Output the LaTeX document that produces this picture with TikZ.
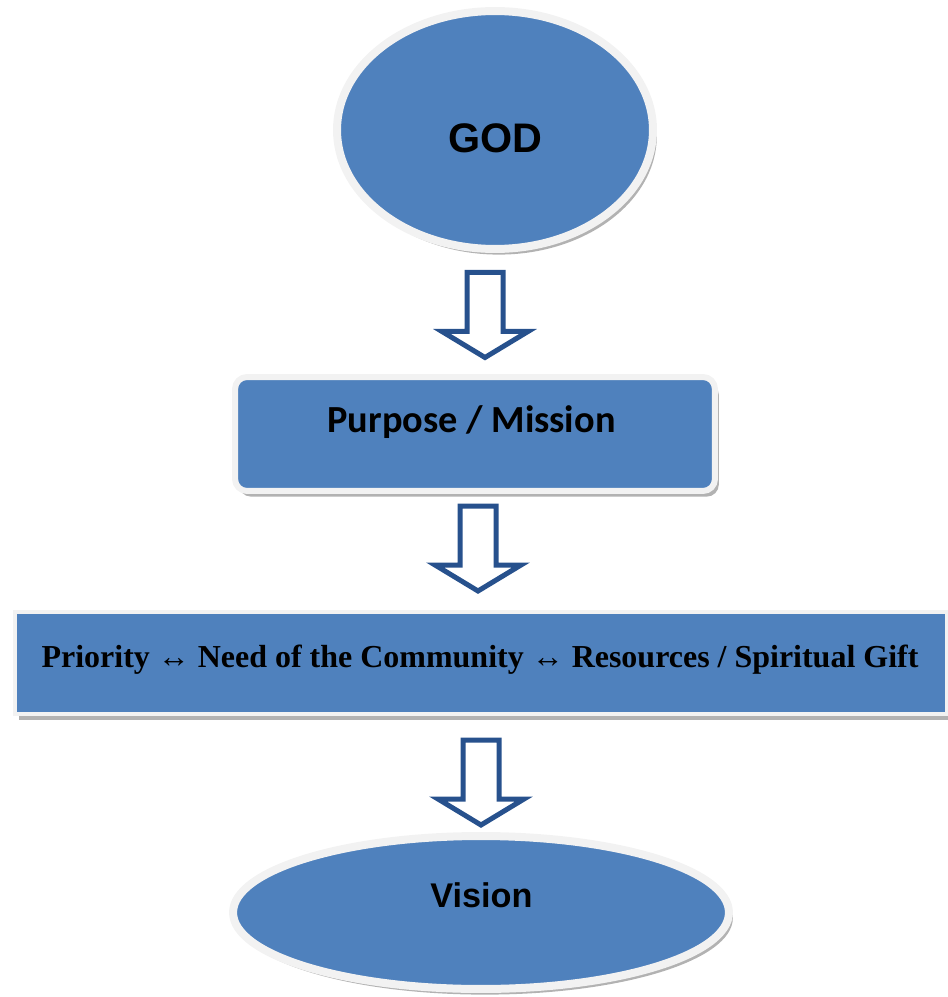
\documentclass[tikz,border=0pt]{standalone}
\usepackage{fontspec}
\setmainfont{Liberation Serif}
\newfontfamily\arialfont{Liberation Sans}
\newfontfamily\califont{Carlito}
\usetikzlibrary{shapes.geometric,shadows,calc}
\definecolor{boxblue}{HTML}{4F81BD}
\definecolor{arrowblue}{HTML}{27518D}
\definecolor{rimgrey}{HTML}{F2F2F2}
\begin{document}
\begin{tikzpicture}[x=0.02cm,y=-0.02cm,
  shapebox/.style={fill=boxblue, draw=rimgrey, inner sep=0pt,
    drop shadow={shadow xshift=2.2pt, shadow yshift=-3.2pt, fill=black!55, opacity=0.55}},
  blockarrow/.style={draw=arrowblue, fill=white, line width=0.1cm, line join=miter},
  labeltext/.style={inner sep=0pt, text=black}]
\useasboundingbox (0,0) rectangle (947,997);

% shapes
\node[shapebox, ellipse, line width=0.16cm, minimum width=6.32cm, minimum height=4.76cm] (god) at (495,130) {};
\node[shapebox, rectangle, rounded corners=0.24cm, line width=0.12cm, minimum width=9.6cm, minimum height=2.28cm] (purpose) at (475,434) {};
\node[shapebox, rectangle, line width=0.08cm, minimum width=18.64cm, minimum height=2.04cm] (wide) at (481,663) {};
\node[shapebox, ellipse, line width=0.16cm, minimum width=9.92cm, minimum height=3.06cm] (vision) at (481,912.5) {};

% texts
\node[labeltext, anchor=base, font=\arialfont\bfseries\fontsize{23.5}{28}\selectfont] (godtxt) at (495.5,153) {GOD};
\node[labeltext, anchor=base, font=\califont\bfseries\fontsize{21.8}{26}\selectfont] (purposetxt) at (471.5,432) {Purpose / Mission};
\node[labeltext, anchor=base, font=\bfseries\fontsize{18.2}{22}\selectfont] (widetxt) at (480,667) {Priority ↔ Need of the Community ↔ Resources / Spiritual Gift};
\node[labeltext, anchor=base, font=\arialfont\bfseries\fontsize{19.5}{24}\selectfont] (visiontxt) at (481.5,907) {Vision};

% block arrows
\foreach \a/\b/\off in {god/purpose/2, purpose/wide/-3, wide/vision/9} {
  \draw[blockarrow, shift={($($(\a.south)!0.5!(\b.north)$)+(0,\off)$)}]
    (-18,-43) -- (18,-43) -- (18,16) -- (43,16) -- (0,42) -- (-43,16) -- (-18,16) -- cycle;
}
\end{tikzpicture}
\end{document}
